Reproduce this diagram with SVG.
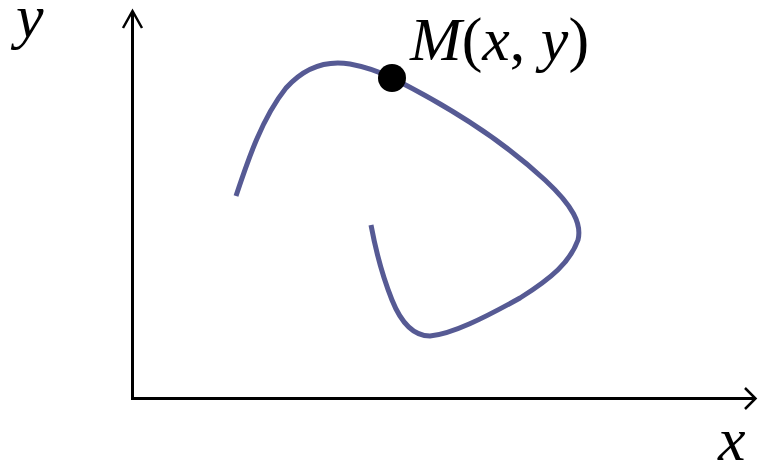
<svg xmlns="http://www.w3.org/2000/svg" width="758" height="464" viewBox="0 0 758 464">
<style>
.axis{stroke:#000;stroke-width:3;fill:none}
.head{stroke:#000;stroke-width:2.5;fill:none;stroke-linejoin:miter}
.curve{stroke:#565a94;stroke-width:5;fill:none;stroke-linecap:butt;stroke-linejoin:round}
.lbl{font-family:"Liberation Serif","Times New Roman",serif;font-size:62px;fill:#000}
.it{font-style:italic}
</style>
<rect width="758" height="464" fill="#fff"/>
<g id="axes">
<path class="axis" d="M132.5,398.5 L132.5,11"/>
<path class="axis" d="M131,398.5 L755,398.5"/>
<path class="head" d="M123,28 L132.5,11 L142,28"/>
<path class="head" d="M745,388 L755.5,398.5 L745,409"/>
</g>
<g id="curve">
<path class="curve" d="M236,196 C248,160 262,118 286,88 C304,68 326,60 350,64 C366,67 380,72 392,78 C440,102 500,138 545,180 C573,206 582,224 578,240 C570,262 552,278 520,298 C484,318 452,334 430,336 C412,336 400,320 392,300 C384,280 376,252 371,225"/>
</g>
<g id="pointM">
<circle cx="392" cy="78" r="14" fill="#000"/>
<text class="lbl" x="410" y="60"><tspan class="it">M</tspan>(<tspan class="it">x</tspan>, <tspan class="it">y</tspan>)</text>
</g>
<g id="labels">
<text class="lbl it" x="16" y="37">y</text>
<text class="lbl it" x="718" y="460">x</text>
</g>
</svg>
